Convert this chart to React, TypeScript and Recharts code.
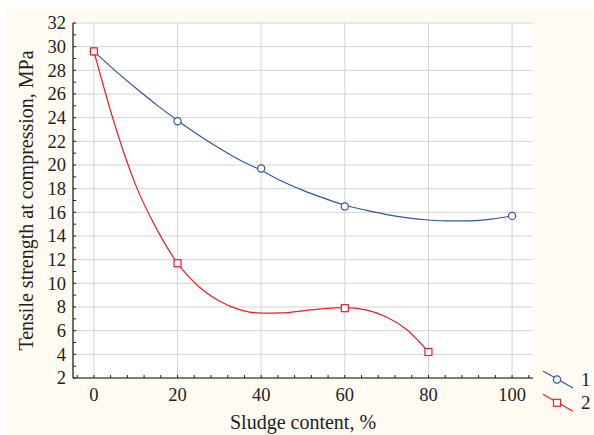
import {
  ComposedChart,
  Line,
  Scatter,
  XAxis,
  YAxis,
  CartesianGrid,
  Legend,
} from 'recharts';

// measured points
const sludge1 = [0, 20, 40, 60, 100];
const strength1 = [29.6, 23.7, 19.7, 16.5, 15.7];
const sludge2 = [0, 20, 60, 80];
const strength2 = [29.6, 11.7, 7.9, 4.2];

// fitted curves, every 5 %
const fitX1 = [0, 5, 10, 15, 20, 25, 30, 35, 40, 45, 50, 55, 60, 65, 70, 75, 80, 85, 90, 95, 100];
const fitY1 = [29.6, 28.0, 26.5, 25.08, 23.77, 22.54, 21.42, 20.4, 19.55, 18.62, 17.86, 17.2, 16.6, 16.18, 15.81, 15.53, 15.35, 15.27, 15.28, 15.42, 15.7];
const fitX2 = [0, 5, 10, 15, 20, 25, 30, 35, 40, 45, 50, 55, 60, 65, 70, 75, 80];
const fitY2 = [29.6, 23.4, 18.3, 14.6, 11.7, 9.75, 8.5, 7.76, 7.48, 7.5, 7.68, 7.87, 7.94, 7.75, 7.16, 6.03, 4.2];

const xMajor = [0, 20, 40, 60, 80, 100];
const xMinor = [-4, 0, 4, 8, 12, 16, 20, 24, 28, 32, 36, 40, 44, 48, 52, 56, 60, 64, 68, 72, 76, 80, 84, 88, 92, 96, 100, 104];
const yMajor = [2, 4, 6, 8, 10, 12, 14, 16, 18, 20, 22, 24, 26, 28, 30, 32];
const yMinor = [2, 3, 4, 5, 6, 7, 8, 9, 10, 11, 12, 13, 14, 15, 16, 17, 18, 19, 20, 21, 22, 23, 24, 25, 26, 27, 28, 29, 30, 31, 32];

const BLUE = '#3553a6';
const RED = '#f01c24';
const FONT = '"Liberation Serif", "Times New Roman", serif';

const zip = (xs: number[], ys: number[]) => xs.map((x, i) => ({ x, y: ys[i] }));

const points1 = zip(sludge1, strength1);
const points2 = zip(sludge2, strength2);
const fit1 = zip(fitX1, fitY1);
const fit2 = zip(fitX2, fitY2);

const SERIES = [
  { name: '1', color: BLUE, shape: 'circle' },
  { name: '2', color: RED, shape: 'square' },
];

function Marker({ cx, cy, color, shape }: { cx: number; cy: number; color: string; shape: string }) {
  if (shape === 'square') {
    return <rect x={cx - 3.5} y={cy - 3.5} width={7} height={7} fill="#fff" stroke={color} strokeWidth={1.2} />;
  }
  return <circle cx={cx} cy={cy} r={3.6} fill="#fff" stroke={color} strokeWidth={1.2} />;
}

function XTick(props: any) {
  const { x, y, payload } = props;
  if (!xMajor.includes(payload.value)) return null;
  return (
    <text x={x} y={y} dy="0.71em" textAnchor="middle" fontFamily={FONT} fontSize={18.5} fill="#222">
      {payload.value}
    </text>
  );
}

function YTick(props: any) {
  const { x, y, payload } = props;
  if (!yMajor.includes(payload.value)) return null;
  return (
    <text x={x} y={y} dy="0.35em" textAnchor="end" fontFamily={FONT} fontSize={18.5} fill="#222">
      {payload.value}
    </text>
  );
}

function YLabel(props: any) {
  const vb = props.viewBox || { x: 0, y: 23, width: 73, height: 355 };
  const cy = vb.y + vb.height / 2;
  return (
    <text
      transform={`translate(33, ${cy}) rotate(-90)`}
      textAnchor="middle"
      fontFamily={FONT}
      fontSize={20}
      fill="#222"
    >
      Tensile strength at compression, MPa
    </text>
  );
}

function renderLegend(props: any) {
  const payload = (props.payload || []).filter((p: any) => p.type !== 'none');
  const names = payload.length ? payload.map((p: any) => String(p.value)) : SERIES.map((s) => s.name);
  return (
    <svg width={56} height={52} style={{ display: 'block' }}>
      {names.map((name: string, i: number) => {
        const s = SERIES.find((d) => d.name === name) || SERIES[i];
        const oy = i * 23.3;
        return (
          <g key={name}>
            <line x1={6} y1={11 + oy} x2={36} y2={28 + oy} stroke={s.color} strokeWidth={1.2} />
            <Marker cx={20} cy={19.5 + oy} color={s.color} shape={s.shape} />
            <text x={44} y={19.5 + oy} dy="0.35em" fontFamily={FONT} fontSize={19} fill="#222">
              {name}
            </text>
          </g>
        );
      })}
    </svg>
  );
}

export default function App() {
  return (
    <div style={{ position: 'absolute', left: 0, top: 0, width: 594, height: 435, background: '#fff', overflow: 'hidden' }}>
      <div style={{ position: 'absolute', left: 6, top: 8, right: 0, bottom: 0, background: '#fffbf2' }} />
      <ComposedChart
        width={594}
        height={435}
        margin={{ top: 23, right: 61, left: 0, bottom: 0 }}
        style={{ position: 'absolute', left: 0, top: 0 }}
      >
        <CartesianGrid
          fill="#fff"
          stroke="#d4d4d4"
          strokeWidth={1}
          verticalValues={xMajor}
          horizontalValues={yMajor}
        />
        <XAxis
          dataKey="x"
          type="number"
          domain={[-5, 105]}
          ticks={xMinor}
          interval={0}
          height={57}
          tick={<XTick />}
          tickSize={-3}
          tickMargin={13}
          tickLine={{ stroke: '#222' }}
          axisLine={{ stroke: '#111', strokeWidth: 1.2 }}
          label={{
            value: 'Sludge content, %',
            position: 'insideBottom',
            offset: 6,
            style: { fontFamily: FONT, fontSize: 20, fill: '#222' },
          }}
        />
        <XAxis
          xAxisId="top"
          orientation="top"
          type="number"
          domain={[-5, 105]}
          ticks={xMinor}
          interval={0}
          height={0}
          tick={false}
          tickSize={-3}
          tickLine={{ stroke: '#333' }}
          axisLine={{ stroke: '#111', strokeWidth: 1.2 }}
        />
        <YAxis
          type="number"
          domain={[2, 32]}
          ticks={yMinor}
          interval={0}
          width={73}
          tick={<YTick />}
          tickSize={-3}
          tickMargin={10}
          tickLine={{ stroke: '#222' }}
          axisLine={{ stroke: '#111', strokeWidth: 1.2 }}
          label={<YLabel />}
        />
        <YAxis
          yAxisId="right"
          orientation="right"
          type="number"
          domain={[2, 32]}
          ticks={yMinor}
          interval={0}
          width={0}
          tick={false}
          tickSize={-3}
          tickLine={{ stroke: '#333' }}
          axisLine={{ stroke: '#777', strokeWidth: 2 }}
        />
        <Legend
          layout="vertical"
          align="center"
          verticalAlign="middle"
          width={56}
          height={52}
          wrapperStyle={{ left: 537, top: 360, width: 56, height: 52 }}
          content={renderLegend}
        />
        <Line
          data={fit1}
          dataKey="y"
          type="monotone"
          stroke={BLUE}
          strokeWidth={1.2}
          dot={false}
          legendType="none"
          isAnimationActive={false}
        />
        <Scatter
          name="1"
          data={points1}
          dataKey="y"
          fill={BLUE}
          isAnimationActive={false}
          shape={(p: any) => <Marker cx={p.cx} cy={p.cy} color={BLUE} shape="circle" />}
        />
        <Line
          data={fit2}
          dataKey="y"
          type="monotone"
          stroke={RED}
          strokeWidth={1.2}
          dot={false}
          legendType="none"
          isAnimationActive={false}
        />
        <Scatter
          name="2"
          data={points2}
          dataKey="y"
          fill={RED}
          isAnimationActive={false}
          shape={(p: any) => <Marker cx={p.cx} cy={p.cy} color={RED} shape="square" />}
        />
      </ComposedChart>
    </div>
  );
}
